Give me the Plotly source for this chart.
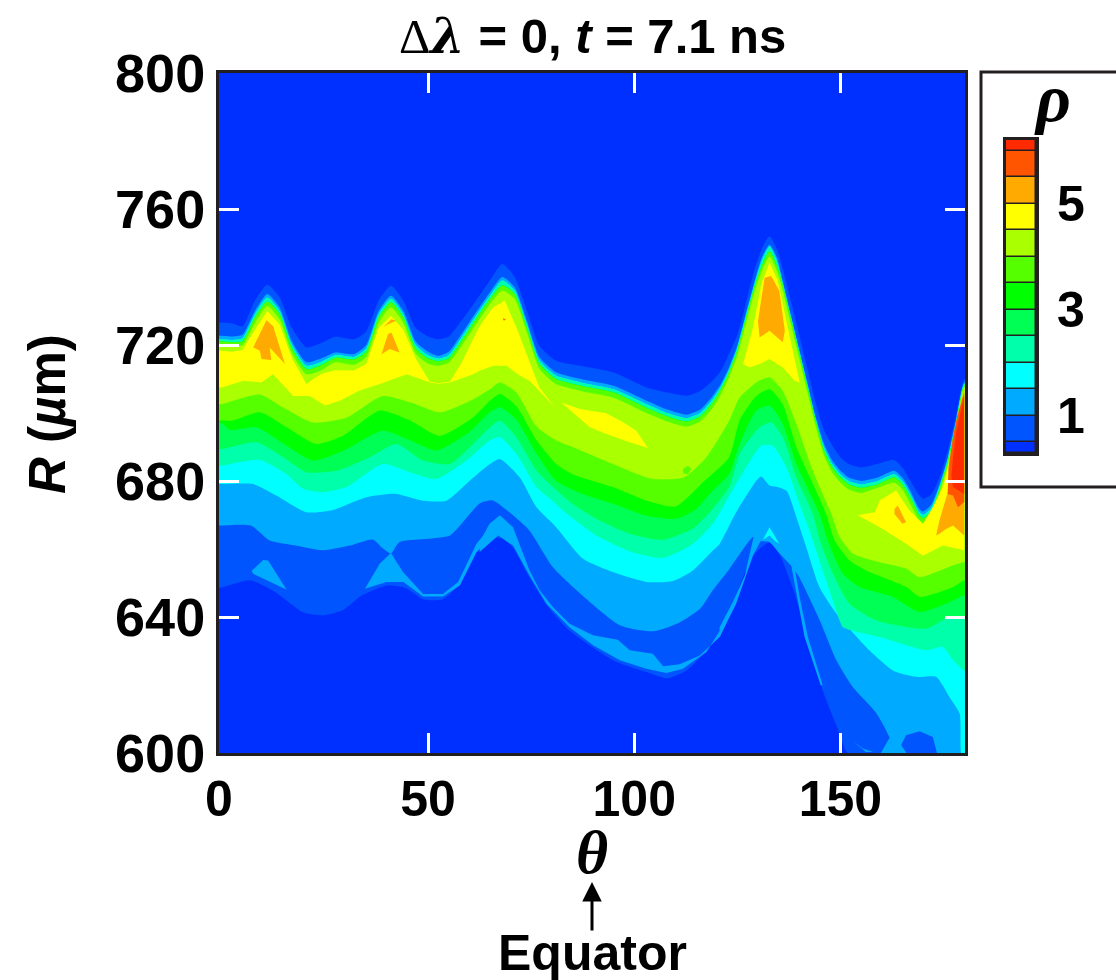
import plotly.graph_objects as go

W, H = 1116, 980
LEFT, RIGHT, TOP, BOTTOM = 219, 965, 73, 753
INK = "#231f20"
BASE = "#0030ff"

# colour of each density band, lowest to highest
L1C, L2C, L3C, L4C, L5C, L6C = "#0055ff", "#00aaff", "#00ffff", "#00ffaa", "#00ff55", "#00ff00"
L7C, L8C, L9C, L10C, L11C, L12C = "#55ff00", "#aaff00", "#ffff00", "#ffaa00", "#ff5500", "#ff2a00"

# outer (shock-side) edges of the bands: theta and R (um)
top_theta = [0, 2.5, 5, 8, 11, 14, 17, 20.5, 24, 27.5, 32, 35, 38, 41, 44, 47, 50, 52.4, 55, 58, 61, 65, 68, 71, 74, 77, 81, 87, 95, 103, 108, 112.7, 116, 119, 121, 123, 125, 127, 129, 131, 132.8, 134.5, 136, 138, 140, 142, 144, 146, 148, 150, 152, 155, 159, 163, 165, 167, 169, 170, 172, 174, 176, 178, 180]
T1 = [726.6, 726.3, 725.5, 733, 737.7, 734, 725, 719.3, 720.5, 722.4, 721.7, 724, 733, 737.4, 733, 725, 722.5, 721.7, 722.5, 727, 732, 739, 743.8, 740, 730, 719.8, 715.4, 713.9, 711.9, 707.5, 706, 705.1, 706.5, 709.5, 712.4, 717.4, 723, 732, 741.5, 748.5, 752, 748.5, 742.5, 733, 723, 713, 703, 695, 690.5, 687, 685, 684, 685, 686.2, 684, 680, 676, 674.8, 676, 681, 689, 699, 710]
T2 = [722.7, 722.5, 723, 730, 735, 731, 721, 714.9, 716, 717.8, 717.3, 720, 730, 734.5, 730, 721, 718, 716.8, 718, 723, 728.5, 735.5, 740, 737, 727, 716.5, 712, 710, 708, 703.6, 701, 699.5, 701, 705, 708.5, 713.5, 720, 729, 738, 746, 749.5, 746, 739, 729, 719, 709, 699, 691, 686, 683, 681, 680, 681, 683, 681, 677, 672, 671, 673, 679, 687, 698, 709]
T3 = [721.7, 721.5, 722, 729, 734, 730, 720, 713.9, 715, 717, 716.5, 719, 729, 733.5, 729, 720, 717, 716, 717, 722, 727.5, 734.5, 739, 736, 726, 715.5, 711, 709, 707, 702.6, 700, 698.5, 700, 704, 707.7, 712.7, 719.2, 728.2, 737.2, 745, 749, 745, 738.2, 728.2, 718.2, 708.2, 698.2, 690, 685, 682, 680, 679, 680, 682, 680, 676, 671, 670, 672, 678.2, 686.2, 697.2, 708.5]
T5 = [721, 720.8, 721, 728, 732.7, 729, 719, 712.9, 714, 716.2, 715.7, 718, 728, 732.5, 728, 719, 716, 715.2, 716, 721, 726.5, 733.5, 737.5, 735, 725, 714.5, 710, 708, 706, 701.5, 699, 697.5, 699, 703, 707, 712, 718.5, 727.5, 736.5, 743.5, 747.5, 743.5, 737.5, 727.5, 717.5, 707.5, 697.5, 689, 684, 681, 679, 678, 679, 681, 679, 675, 670, 669, 671, 677.5, 685.5, 696.5, 708]
T8 = [719.8, 719.5, 720, 726.5, 731.5, 727.5, 717.5, 711.4, 712.5, 714.9, 714.2, 716.5, 726.5, 731, 726.5, 717.5, 714.5, 713.9, 714.8, 719.5, 725, 732, 736, 733.5, 723.5, 713, 708.5, 706.5, 704.5, 700, 697.5, 696, 697.5, 701.5, 705.5, 710.5, 717, 726, 735, 742, 746, 742, 736, 726, 716, 706, 696, 687.5, 682.5, 679.5, 677.5, 676.5, 678, 679.5, 677.5, 673, 668.5, 667.5, 670, 676.5, 684.5, 696, 707.5]

# inner (low R) edges of the bands, as (theta, R)
L1_low = [(0, 648.7), (6.8, 650.8), (13, 647.3), (19.7, 641.4), (24.5, 640.5), (29.3, 642), (34, 646.4), (40, 649.3), (44.8, 648.4), (48.8, 645.2), (53.6, 645.2), (57.7, 649.9), (61.8, 659.6), (64, 662), (67.4, 663.4), (70.5, 660.5), (74.6, 651.6), (78.8, 643.4), (84.3, 636), (94.8, 627.3), (103, 623.8), (107.8, 622), (112.7, 624.3), (119, 632.2), (123, 641), (128.7, 658), (132.8, 661.9), (135, 659), (138.4, 648.7), (142.5, 632.3), (145.7, 618.4), (149.8, 605.8), (151.8, 600), (180, 600)]
L2_low = [(0, 666.9), (7, 666.9), (11.6, 662.5), (18, 661), (24.5, 659.6), (31, 661), (36.6, 662.8), (39, 660.2), (41, 658.7), (43, 662), (49.7, 663), (55.3, 664), (59.4, 669.3), (62.5, 673.4), (65.7, 674.3), (69.8, 670.7), (74.6, 665.4), (80.3, 654.6), (86.8, 647), (96.5, 637.6), (104.6, 635.8), (111, 638.4), (116, 642.5), (119, 647.8), (123, 654), (128.8, 663.5), (129.3, 662.5), (132.8, 662), (135, 659), (138.1, 655), (140, 651.7), (145, 639), (149, 627.3), (153, 619.4), (158.7, 611.7), (161.9, 604.5), (162.6, 600), (180, 600)]
L3_low = [(0, 679.1), (7.6, 679.1), (13.2, 675.7), (20.5, 670.8), (27, 671.5), (35, 675.2), (42.3, 676.2), (48.8, 674.2), (54.4, 674.2), (60.1, 680.1), (65, 685), (67.4, 686.5), (72.2, 681.1), (76.3, 672.3), (81, 666.5), (87.6, 657.1), (94.8, 653.2), (103, 650.3), (109.4, 650.6), (114.2, 653.7), (119, 659.5), (120.7, 661.5), (124.7, 670.8), (129.6, 680.1), (130.8, 681.3), (132.8, 678.7), (134.8, 678.2), (137, 677), (139.3, 669.4), (141.7, 660.5), (144.9, 648.8), (149, 641), (157, 630.2), (162.7, 624.3), (168.4, 622.4), (173.2, 622.4), (176.4, 616.5), (178.9, 611.6), (179.3, 600), (180, 600)]
L4_low = [(0, 684.5), (9.2, 686.2), (15.7, 682), (19.7, 677.7), (24.5, 676.7), (30.2, 678.2), (39, 685), (45.6, 682.6), (52, 680.6), (59.3, 686), (65, 691.9), (67.4, 692.9), (71.4, 688), (76.3, 678.2), (80.3, 674), (83.5, 670.5), (90.8, 664), (99.7, 659), (107, 657.4), (114.2, 661.5), (119, 667.4), (125.6, 681), (130.8, 690.4), (133.6, 690.4), (136.9, 684), (140.1, 673.3), (142.5, 665.4), (146.5, 650.8), (149.8, 639), (150.6, 637), (159.5, 634.1), (170.8, 630.2), (174.8, 631.2), (177.3, 627.3), (180, 624.3)]
L5_low = [(0, 689.4), (8.4, 691.4), (14.9, 687), (20.5, 682.6), (27.8, 683), (35.9, 687), (42.3, 690.9), (48.8, 686), (55.3, 685), (60.9, 690.9), (65, 695.8), (67.4, 697.7), (71.4, 692.9), (76.3, 683), (78.7, 680), (85, 673.3), (90.8, 668.9), (98.9, 664.5), (107, 662.7), (114.2, 666), (119, 671.8), (123, 678.2), (125.6, 688), (130.4, 695.8), (133.2, 697.3), (136, 692.9), (139.3, 681), (143.3, 670.3), (145, 662.5), (148.2, 652.7), (152.2, 643.9), (158.7, 639), (170.8, 636.6), (175.6, 639.5), (180, 640)]
L6_low = [(0, 697), (2, 695), (8.4, 695.8), (14.9, 691), (22.1, 686), (29.4, 688.9), (39, 694.8), (45.6, 692), (52, 689), (60.1, 694.5), (65, 700.2), (67.4, 701.7), (71.4, 698), (76.3, 688), (81.1, 680), (86.8, 676.5), (94.8, 673.3), (102.9, 669.8), (110.2, 668.9), (115, 671.8), (119, 677.2), (123, 682), (125.6, 691), (129.6, 700.7), (132.8, 702.2), (136, 696.8), (139.3, 685), (144.9, 670.3), (146.9, 662.5), (150.6, 652.7), (154.6, 648.8), (162.7, 645.9), (169.2, 641.5), (175.6, 643.9), (180, 646.4)]
L7_low = [(0, 697.8), (2.7, 697.8), (9.2, 700.2), (15.7, 695.8), (22.9, 690.9), (29.4, 693.3), (38.3, 700.7), (45.6, 697.8), (52.8, 693.3), (60.9, 698.7), (65, 703.6), (67.4, 705.6), (71.4, 702), (76.3, 692), (81.1, 685), (85, 682), (94.8, 678.2), (103, 674.2), (110, 672.5), (117, 680), (123, 687), (125.6, 698), (129.6, 705), (132.8, 707), (136, 702.5), (139.3, 690), (143, 680), (146.5, 670.3), (148.6, 662.5), (152.2, 656.6), (156.2, 653.7), (166, 648.8), (169.2, 645.9), (177.3, 648.8), (180, 650.8)]
L8_low = [(0, 702.6), (9.2, 705.4), (15.7, 701), (22, 697.2), (30, 698.5), (39, 705), (46, 703), (52.8, 700.2), (60.9, 704), (65, 707), (67.4, 709), (71.4, 706), (76.3, 696), (81, 692), (85, 690), (94.8, 685), (103, 681), (105, 680.5), (112, 681), (117.5, 687), (123, 697.7), (125.6, 704.6), (129.6, 709), (132.8, 710.5), (136, 706.5), (139.3, 696.8), (143.3, 683), (147.8, 670.3), (149.8, 663.5), (153, 658.6), (159.5, 656.1), (166, 654.2), (169.2, 651.7), (177.3, 655.2), (180, 656.2)]

# closed islands of each band, as (theta, R)
L1_islands = [[(164.7, 602.3), (165.9, 605.2), (169.2, 606.4), (172.4, 604.7), (173.4, 600), (166, 600)]]
L2_islands = [
    [(62.5, 662), (64.9, 667.4), (67.4, 669.9), (70.6, 666.4), (74.6, 653.7), (77.1, 647.8), (80.3, 642.9), (84.3, 638), (90, 634.6), (96, 633.3), (98.9, 630.2), (104.5, 629.2), (107, 625.5), (111, 626.1), (115.9, 628.7), (120.7, 634.1), (123.1, 640.5), (117.5, 629.7), (111.8, 624.8), (107.8, 623.5), (102.9, 624.8), (96.5, 627.3), (90, 631.7), (84.3, 637), (78.7, 643.9), (74.6, 652.2), (70.6, 661), (67, 664), (62.5, 659.1)],
    [(34.7, 648.3), (38.3, 655.7), (41, 658.8), (43.9, 653.2), (48.8, 646.8), (53.6, 646.8), (57.3, 650.3), (61.7, 661.5), (65, 666.4), (65, 663), (61.7, 659), (57.7, 649.3), (53.6, 646), (48.8, 646), (44, 650.3), (39.9, 650.3)],
    [(7.2, 653.5), (10, 656.8), (11.2, 656.6), (15.7, 648), (7.6, 652.7)],
    [(120.7, 634.1), (124.7, 643.9), (128.8, 658.1), (130.8, 662.7), (132.8, 663), (130, 663.8), (128.9, 663.4), (126.8, 652.2), (123.9, 644.4), (120.7, 637)],
    [(138.1, 654.9), (138.9, 654.5), (140.1, 645.9), (142.1, 634.1), (145.7, 619.9), (145.2, 619.9), (141.3, 634.1), (139.4, 645.9)],
    [(153, 603.5), (155.4, 601.3), (157.9, 600.3), (156.2, 600.3), (154.2, 602.3)],
    [(159.8, 600), (161.9, 604.5), (162.8, 600)],
]
L3_islands = [[(131.2, 662.7), (132.8, 666.4), (134, 664), (135.2, 661.5), (134, 662.5), (132.8, 664), (131.6, 663)]]
L7_islands = [[(111.8, 683.5), (113, 684.5), (113.8, 683.5), (113, 682), (111.9, 682.3)]]
L9_islands = [
    [(0, 718.3), (2.5, 718), (5, 718.5), (8, 724.5), (11, 730), (14, 726), (17, 716), (20.5, 708.5), (24, 711.5), (27.5, 712.6), (32, 712.5), (35, 714.5), (38, 725), (41, 728.6), (44, 724.5), (47, 716), (50.4, 709.2), (52.4, 708.8), (55.3, 709.2), (58, 714.5), (61, 722), (62.5, 725.5), (65.7, 731), (68.6, 733), (71.4, 725.2), (74.6, 715.4), (77, 707.5), (80.7, 701.7), (77, 706.5), (74.6, 709.5), (72.2, 711), (69, 713.9), (65.8, 713.9), (62.5, 712.4), (60.9, 711.4), (55.3, 709), (52.4, 708.6), (50.4, 709), (44.8, 711.4), (38.3, 708.5), (33.4, 706.6), (28.6, 703.6), (25, 702.2), (21.3, 705), (17.3, 705), (12.4, 711.4), (9.6, 709), (5.2, 709.5), (0, 707.5), (-1, 707.5), (-1, 718.3)],
    [(82.3, 703.1), (86.8, 701.2), (93.2, 699.9), (97.3, 697.3), (100.5, 694.8), (103.3, 689.7), (98.9, 691.4), (93.2, 693.8), (89.2, 695.8), (85.1, 700.2)],
    [(126.4, 714.4), (128.8, 725.2), (130.8, 737.9), (132.8, 744.3), (134.8, 738.9), (136.9, 727.1), (138.9, 716.3), (140.1, 709), (138.9, 709.5), (136, 713.4), (132.8, 715.9), (130.4, 714.4), (128, 713.4)],
    [(154.2, 669.9), (158.3, 670.8), (159.5, 674.3), (163.5, 677.2), (166.7, 671.3), (170, 667.4), (172.4, 672.3), (174.8, 678.2), (177.3, 689.9), (180, 707.5), (180, 659.6), (174.8, 661), (170, 658), (166, 661.5), (159.5, 666.4)],
]
L10_islands = [
    [(7.6, 719.3), (10.8, 727.3), (12.4, 725.6), (15.3, 714.4), (11.6, 719.3), (12, 715.6), (9.6, 715.9), (9.2, 718.3)],
    [(38.7, 717.3), (40.3, 723.2), (41.1, 723.7), (43.1, 717.8), (40.7, 718.8)],
    [(39.1, 725.2), (41.1, 727.6), (42.3, 727.1), (40.3, 726.1)],
    [(130.4, 722.2), (130, 727), (131.6, 739.8), (133.2, 740.3), (135.2, 735.9), (136.5, 724.2), (136, 720.8), (132.8, 724.2)],
    [(163.1, 671.8), (163.9, 672.8), (165.9, 667.9), (165, 667.4), (163.1, 670.3)],
    [(173.2, 664), (174, 668.4), (176.4, 678.2), (177.3, 689.9), (180, 707.5), (180, 664), (177.3, 666.9), (175.6, 665.9), (174, 664.5)],
]
L11_islands = [
    [(176, 676.2), (176.2, 684), (177.3, 693), (178.3, 699), (180, 706), (180, 673.8), (178.5, 672.3), (177.3, 675.7)],
    [(68.1, 727.9), (68.8, 727.6), (68.4, 727.1)],
]
L12_islands = [[(176.9, 681.6), (177.3, 687), (178.1, 694.8), (179.3, 701.7), (180, 705), (180, 676.2), (177.3, 678.2)]]

# colour-bar levels
bar_edges = [0.3, 0.5, 1.0, 1.5, 2.0, 2.5, 3.0, 3.5, 4.0, 4.5, 5.0, 5.5, 6.0, 6.2]
bar_colors = [BASE, L1C, L2C, L3C, L4C, L5C, L6C, L7C, L8C, L9C, L10C, L11C, L12C]

x_tick_vals = [-0.7, 50, 100, 150]
x_tick_text = ["0", "50", "100", "150"]
y_tick_vals = [600, 640, 680, 720, 760, 800]
rho_ticks = [1, 3, 5]

FONT = "Liberation Sans"
SERIF = "Liberation Serif"


def band(top, low):
    tx = [-1] + top_theta + [181]
    ty = [top[0]] + list(top) + [top[-1]]
    lx = [181] + [p[0] for p in reversed(low)] + [-1]
    ly = [low[-1][1]] + [p[1] for p in reversed(low)] + [low[0][1]]
    return tx + lx, ty + ly


def poly(x, y, color, smooth=False):
    line = dict(width=0, color=color)
    if smooth:
        line.update(shape="spline", smoothing=0.6)
    return go.Scatter(x=x, y=y, mode="lines", fill="toself", fillcolor=color,
                      line=line, hoverinfo="skip", showlegend=False)


def island(points, color):
    return poly([p[0] for p in points] + [points[0][0]], [p[1] for p in points] + [points[0][1]], color)


fig = go.Figure()
fig.add_trace(poly([-2, 182, 182, -2, -2], [599, 599, 801, 801, 599], BASE))
for top, low, color, extras in [
    (T1, L1_low, L1C, []), (T2, L2_low, L2C, L2_islands),
]:
    fig.add_trace(poly(*band(top, low), color, True))
    for pts in extras:
        fig.add_trace(island(pts, color))
for pts in L1_islands:
    fig.add_trace(island(pts, L1C))
for top, low, color, extras in [
    (T3, L3_low, L3C, L3_islands), (T3, L4_low, L4C, []), (T5, L5_low, L5C, []),
    (T5, L6_low, L6C, []), (T5, L7_low, L7C, []), (T8, L8_low, L8C, []),
]:
    fig.add_trace(poly(*band(top, low), color, True))
    for pts in extras:
        fig.add_trace(island(pts, color))
for pts_list, color in [(L7_islands, L7C), (L9_islands, L9C), (L10_islands, L10C), (L11_islands, L11C), (L12_islands, L12C)]:
    for pts in pts_list:
        fig.add_trace(island(pts, color))

fig.add_trace(go.Bar(
    x=[0] * len(bar_colors),
    base=bar_edges[:-1],
    y=[b - a for a, b in zip(bar_edges[:-1], bar_edges[1:])],
    width=1,
    marker=dict(color=bar_colors, line=dict(color=INK, width=1.5)),
    xaxis="x2", yaxis="y2", hoverinfo="skip", showlegend=False,
))
# empty full-page axes that carry the text and the legend frame
fig.add_trace(go.Scatter(x=[0], y=[0], mode="none", xaxis="x3", yaxis="y3", hoverinfo="skip", showlegend=False))


def px(x):
    return x / W


def py(y):
    return 1 - y / H


def note(x, y, text, size, family=FONT, **kw):
    return dict(xref="x3", yref="y3", x=x, y=y, text=text, showarrow=False,
                font=dict(family=family, size=size, color="black", weight=700), **kw)


annotations = [
    note(592, 36, ('<span style="font-family:Liberation Serif;font-weight:normal">\u0394</span>'
                   '<span style="font-family:DejaVu Serif"><i>\u03bb</i></span> = 0, <i>t</i> = 7.1 ns'), 49),
    note(47, 414, '<i>R</i> (<i>\u00b5</i>m)', 51, textangle=-90),
    note(592, 852, "<i>\u03b8</i>", 62, SERIF),
    note(592, 953, "Equator", 50),
    dict(xref="x3", yref="y3", x=592, y=882, axref="pixel", ayref="pixel", ax=0, ay=50,
         text="", showarrow=True, arrowhead=2, arrowsize=1.3, arrowwidth=3, arrowcolor="black"),
    note(1052, 98, "<i>\u03c1</i>", 68, SERIF),
]

hidden = dict(visible=False, showgrid=False, zeroline=False, automargin=False)
fig.update_layout(
    template="none",
    width=W, height=H, autosize=False,
    margin=dict(l=0, r=0, t=0, b=0, pad=0, autoexpand=False),
    paper_bgcolor="white", plot_bgcolor="rgba(0,0,0,0)",
    showlegend=False, bargap=0,
    annotations=annotations,
    shapes=[dict(type="rect", xref="x3", yref="y3", x0=981, x1=1130, y0=487, y1=72,
                 line=dict(color=INK, width=3), fillcolor="rgba(0,0,0,0)")],
    xaxis=dict(domain=[px(LEFT), px(RIGHT)], range=[-0.7, 180.2], tickmode="array", automargin=False,
               tickvals=x_tick_vals, ticktext=x_tick_text, ticks="inside", ticklen=20, tickwidth=3,
               tickcolor="white", showline=True, linecolor=INK, linewidth=3, mirror="allticks",
               showgrid=False, zeroline=False,
               tickfont=dict(family=FONT, size=50, color="black", weight=700)),
    yaxis=dict(domain=[py(BOTTOM), py(TOP)], range=[600, 800], tickmode="array", automargin=False,
               tickvals=y_tick_vals, ticks="inside", ticklen=20, tickwidth=3,
               tickcolor="white", showline=True, linecolor=INK, linewidth=3, mirror="allticks",
               showgrid=False, zeroline=False,
               tickfont=dict(family=FONT, size=54, color="black", weight=700)),
    xaxis2=dict(domain=[px(1006), px(1036)], range=[-0.5, 0.5], anchor="y2", showticklabels=False, automargin=False,
                ticks="", showgrid=False, zeroline=False, showline=True, linecolor=INK, linewidth=3, mirror=True),
    yaxis2=dict(domain=[py(453), py(140)], range=[0.3, 6.2], anchor="x2", side="right", tickmode="array", automargin=False,
                tickvals=rho_ticks, ticks="", showgrid=False, zeroline=False, showline=True,
                linecolor=INK, linewidth=3, mirror=True, ticklabelstandoff=8,
                tickfont=dict(family=FONT, size=50, color="black", weight=700)),
    xaxis3=dict(domain=[0, 1], range=[0, W], anchor="y3", **hidden),
    yaxis3=dict(domain=[0, 1], range=[H, 0], anchor="x3", **hidden),
)

fig.write_html("out.html", post_script="document.body.style.margin='0';", config=dict(displayModeBar=False))
